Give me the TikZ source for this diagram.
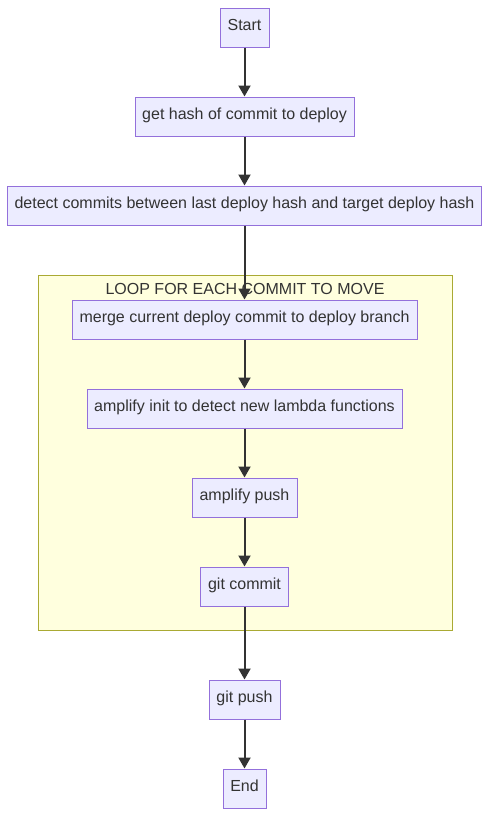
\documentclass[tikz,border=0pt]{standalone}
\usepackage{fontspec}
\setmainfont{Liberation Sans}
\usetikzlibrary{arrows.meta}
\definecolor{nodefill}{HTML}{ECECFF}
\definecolor{nodeline}{HTML}{9370DB}
\definecolor{clusterfill}{HTML}{FFFFDE}
\definecolor{clusterline}{HTML}{AAAA33}
\definecolor{ink}{HTML}{333333}
\begin{document}
\begin{tikzpicture}[x=1pt,y=-1pt,
  box/.style={draw=nodeline, fill=nodefill, line width=1pt, inner sep=0pt,
    text=ink, font=\fontsize{16}{19}\selectfont, minimum height=39pt, text depth=0pt},
  flow/.style={draw=ink, line width=2pt, -{Triangle[width=12pt,length=11pt]}},
  cluster/.style={draw=clusterline, fill=clusterfill, line width=1pt}
]
\useasboundingbox (0,0) rectangle (490,817);
\fill[white] (0,0) rectangle (490,817);
\draw[cluster] (38,275) rectangle (452,630);
\node[text=ink, font=\fontsize{16}{19}\selectfont, anchor=base] (title) at (245,294) {LOOP FOR EACH COMMIT TO MOVE};

\node[box, minimum width=49pt]  (start) at (244.5,27.5) {\raisebox{5pt}{Start}};
\node[box, minimum width=219pt] (hash)  at (244.5,116.5) {\raisebox{5pt}{get hash of commit to deploy}};
\node[box, minimum width=474pt] (detect) at (244.5,205.5) {\raisebox{5pt}{detect commits between last deploy hash and target deploy hash}};
\node[box, minimum width=345pt] (merge) at (244.5,319.5) {\raisebox{5pt}{merge current deploy commit to deploy branch}};
\node[box, minimum width=315pt] (init)  at (244.5,408.5) {\raisebox{5pt}{amplify init to detect new lambda functions}};
\node[box, minimum width=105pt] (apush) at (244.5,497.5) {\raisebox{5pt}{amplify push}};
\node[box, minimum width=88pt]  (gcommit) at (244.5,586.5) {\raisebox{5pt}{git commit}};
\node[box, minimum width=71pt]  (gpush) at (244.5,699.5) {\raisebox{5pt}{git push}};
\node[box, minimum width=43pt]  (end) at (244.5,788.5) {\raisebox{5pt}{End}};

\draw[flow] (start.south) -- (hash.north);
\draw[flow] (hash.south) -- (detect.north);
\draw[flow] (detect.south) -- (merge.north);
\draw[flow] (merge.south) -- (init.north);
\draw[flow] (init.south) -- (apush.north);
\draw[flow] (apush.south) -- (gcommit.north);
\draw[flow] (gcommit.south) -- (gpush.north);
\draw[flow] (gpush.south) -- (end.north);
\end{tikzpicture}
\end{document}
